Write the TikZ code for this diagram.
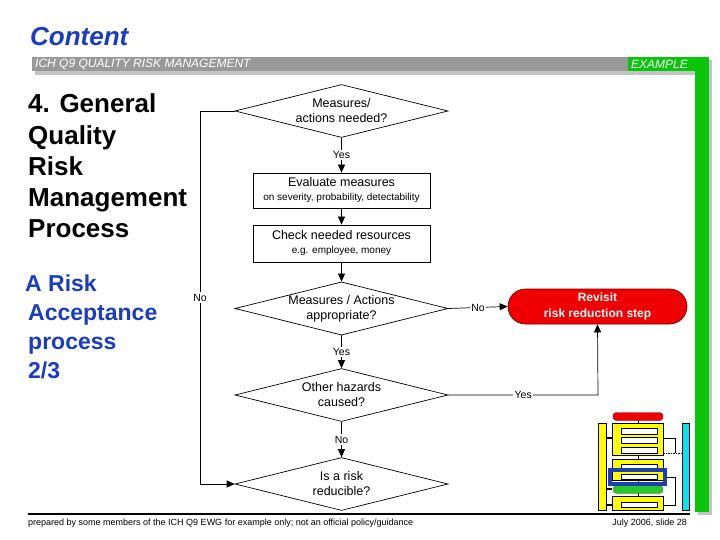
\documentclass[tikz,border=0pt]{standalone}
\usepackage{fontspec}
\setmainfont{Liberation Sans}
\usetikzlibrary{shapes.geometric,arrows.meta}
\definecolor{hdrgrey}{RGB}{153,153,153}
\definecolor{shadowgrey}{RGB}{195,195,195}
\definecolor{exgreen}{RGB}{10,198,10}
\definecolor{titleblue}{RGB}{25,60,195}
\definecolor{revred}{RGB}{240,0,0}
\definecolor{revborder}{RGB}{120,0,0}
\definecolor{thumbyellow}{RGB}{255,255,0}
\definecolor{thumbcyan}{RGB}{0,230,240}
\definecolor{thumbgreen}{RGB}{40,200,40}
\definecolor{thumbblue}{RGB}{30,60,180}
\begin{document}
\begin{tikzpicture}[x=1pt,y=-1pt,
  dec/.style={draw, shape=diamond, aspect=4, inner sep=0pt, minimum width=213pt,
    minimum height=53pt, align=center, font=\fontsize{12.5}{15}\selectfont, line width=0.7pt},
  procbox/.style={draw, rectangle, minimum width=177pt, align=center, inner sep=0pt,
    line width=0.7pt, font=\fontsize{12.5}{14}\selectfont},
  flow/.style={-{Triangle[length=8pt,width=7pt]}, line width=0.7pt},
  lbl/.style={fill=white, inner sep=1.5pt, font=\fontsize{10.5}{12}\selectfont},
  bigtxt/.style={anchor=base west, inner sep=0pt, font=\bfseries\fontsize{26}{31}\selectfont},
  bluetxt/.style={anchor=base west, inner sep=0pt, text=titleblue, font=\bfseries\fontsize{23}{28}\selectfont},
  hdrtxt/.style={anchor=west, inner sep=0pt, text=white, font=\itshape\fontsize{12}{14}\selectfont},
  foottxt/.style={inner sep=0pt, font=\fontsize{9}{11}\selectfont},
  thumbbox/.style={draw, fill=thumbyellow, line width=0.4pt},
  thumbinner/.style={draw, fill=white, line width=0.4pt}
]
\useasboundingbox (0,0) rectangle (720,540);
\fill[white] (0,0) rectangle (720,540);

% title
\node[anchor=base west, inner sep=0pt, text=titleblue, font=\bfseries\itshape\fontsize{26}{30}\selectfont] (title) at (30,46) {Content};

% header bar
\fill[shadowgrey] (35,71) rectangle (695,75);
\fill[shadowgrey] (709,60) rectangle (712,515);
\fill[shadowgrey] (698,512) rectangle (712,515);
\fill[hdrgrey] (32,57) rectangle (628,71);
\fill[exgreen] (628,57) rectangle (709,71);
\fill[exgreen] (695,57) rectangle (709,512);
\node[hdrtxt] (hdr) at (35,64.5) {ICH Q9 QUALITY RISK MANAGEMENT};
\node[hdrtxt] (ex) at (631,64.5) {EXAMPLE};

% left texts
\node[bigtxt] (l1) at (28,113) {4. General};
\node[bigtxt] (l2) at (28,144.2) {Quality};
\node[bigtxt] (l3) at (28,175.4) {Risk};
\node[bigtxt] (l4) at (28,206.6) {Management};
\node[bigtxt] (l5) at (28,237.8) {Process};
\node[bluetxt] (b1t) at (25,291) {A Risk};
\node[bluetxt] (b2t) at (28,320) {Acceptance};
\node[bluetxt] (b3t) at (28,349) {process};
\node[bluetxt] (b4t) at (28,378) {2/3};

% flowchart nodes
\node[dec] (d1) at (341.5,111) {Measures/\\actions needed?};
\node[procbox, minimum height=35pt] (bx1) at (341.5,190.5)
  {Evaluate measures\\{\fontsize{10}{12}\selectfont on severity, probability, detectability}};
\node[procbox, minimum height=37pt] (bx2) at (341.5,243.5)
  {Check needed resources\\{\fontsize{10}{12}\selectfont e.g. employee, money}};
\node[dec] (d2) at (341.5,308.5) {Measures / Actions\\appropriate?};
\node[draw=revborder, fill=revred, rounded corners=17.5pt, minimum width=179pt,
  minimum height=35pt, text=white, font=\bfseries\fontsize{12}{16}\selectfont,
  align=center, line width=0.7pt, inner sep=0pt] (rev) at (597.5,306.5) {Revisit\\risk reduction step};
\node[dec] (d3) at (341.5,395) {Other hazards\\caused?};
\node[dec] (d4) at (341.5,484) {Is a risk\\reducible?};

\coordinate (cTop) at (200,111);
\coordinate (cBot) at (200,484);
\coordinate (cYes) at (598,395);

% connectors
\draw[flow] (d1.south) -- node[lbl] {Yes} (bx1.north);
\draw[flow] (bx1.south) -- (bx2.north);
\draw[flow] (bx2.south) -- (d2.north);
\draw[flow] (d2.east) -- node[lbl] {No} (rev.west);
\draw[flow] (d2.south) -- node[lbl] {Yes} (d3.north);
\draw[flow] (d3.east) -- node[lbl] {Yes} (cYes) -- (rev.south);
\draw[flow] (d3.south) -- node[lbl] {No} (d4.north);
\draw[flow] (d1.west) -- (cTop) -- node[lbl] {No} (cBot) -- (d4.west);

% footer
\fill[white] (0,514) rectangle (694,540);
\draw[line width=2pt] (28,514) -- (690,514);
\node[foottxt, anchor=base west] (foot) at (28,525) {prepared by some members of the ICH Q9 EWG for example only; not an official policy/guidance};
\node[foottxt, anchor=base east] (date) at (687,525) {July 2006, slide 28};

% thumbnail
\draw[line width=0.4pt] (638,416) -- (638,505);
\draw[line width=0.4pt] (663,438) -- (675,438) -- (675,453);
\draw[line width=0.4pt, dash pattern=on 1.5pt off 1pt] (663,453) -- (682,453);
\draw[line width=0.4pt] (663,477) -- (675,477) -- (675,505) -- (663,505);
\fill[thumbyellow, draw=black, line width=0.4pt] (598,423) rectangle (606,510);
\fill[thumbcyan, draw=black, line width=0.4pt] (682,423) rectangle (689,510);
\draw[thumbbox] (612,423) rectangle (663,455);
\draw[thumbinner] (621,428) rectangle (657,434);
\draw[thumbinner] (621,437) rectangle (657,443);
\draw[thumbinner] (621,447) rectangle (657,453);
\draw[thumbbox] (612,459) rectangle (663,480);
\draw[thumbinner] (621,464) rectangle (657,470);
\draw[thumbinner] (621,474) rectangle (657,479);
\draw[thumbbox] (612,496) rectangle (663,510);
\draw[thumbinner] (621,502) rectangle (657,507);
\draw[fill=revred, draw=revborder, line width=0.4pt, rounded corners=3.5pt] (613,412.5) rectangle (663,420.5);
\draw[fill=thumbgreen, draw=black!60, line width=0.4pt, rounded corners=3.5pt] (613,485.5) rectangle (663,493.5);
\draw[thumbblue, line width=3.5pt] (610,470) rectangle (665,484);
\draw[line width=1.6pt] (606,438) -- (612,438);
\draw[line width=1.6pt] (606,489) -- (612,489);
\draw[line width=1.6pt] (606,505) -- (612,505);
\end{tikzpicture}
\end{document}
